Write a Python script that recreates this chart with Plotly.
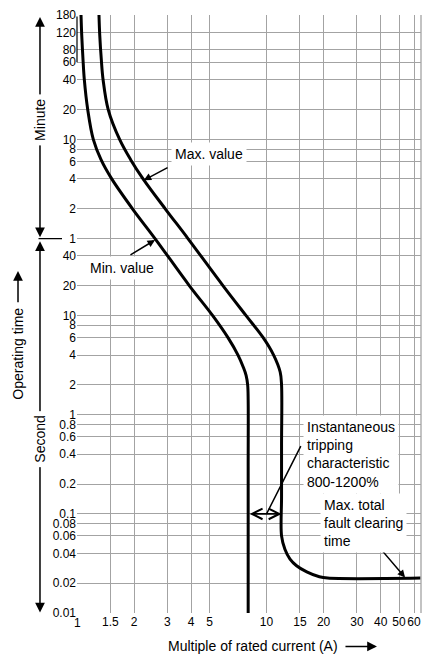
import numpy as np
import plotly.graph_objects as go

# ---------------- data (current multiple, operating time in seconds) ----------------
min_current = [1.05, 1.059, 1.076, 1.093, 1.139, 1.219, 1.339, 1.525, 1.98, 2.58, 3.92, 5.2,
               6.26, 7.07, 7.55, 7.8, 7.95, 8.0, 8.0, 8.0]
min_time_s = [10800, 6800, 3800, 2400, 1200, 600, 375, 240, 117, 60, 20, 10,
              6, 4, 3, 2.5, 2.0, 1.4, 0.3, 0.01]

max_current = [1.306, 1.318, 1.344, 1.373, 1.461, 1.678, 1.919, 2.231, 2.948, 3.85, 5.9, 7.8,
               9.6, 10.9, 11.8, 12.0, 12.0, 12.0, 12.0, 12.5, 13.3, 14.4, 16.3, 19.0, 21.0, 65.0]
max_time_s = [10800, 6800, 3800, 2400, 1200, 600, 375, 240, 117, 60, 20, 10,
              6, 4, 2.7, 2.0, 0.5, 0.15, 0.06, 0.044, 0.035, 0.030, 0.026, 0.0232, 0.0225, 0.0225]

instant_min = 8      # 800 %
instant_max = 12     # 1200 %
instant_time = 0.1   # level of the double arrow (s)

x_ticks = [1.5, 2, 3, 4, 5, 10, 15, 20, 30, 40, 50, 60]
x_tick_text = ["1.5", "2", "3", "4", "5", "10", "15", "20", "30", "40", "50", "60"]
x_first_label = "1"
y_ticks_minutes = [180, 120, 80, 60, 40, 20, 10, 8, 6, 4, 2, 1]
y_ticks_seconds = [40, 20, 10, 8, 6, 4, 2, 1, 0.8, 0.6, 0.4, 0.2, 0.1, 0.08, 0.06, 0.04, 0.02, 0.01]

y_tick_vals = [m * 60 for m in y_ticks_minutes] + y_ticks_seconds
y_tick_text = [f"{m:g}" for m in y_ticks_minutes] + [f"{s:g}" for s in y_ticks_seconds]

x_min, x_max = 1, 65.3
t_min, t_max = 0.01, 10800

FONT = "Liberation Sans, Arial, Helvetica, sans-serif"
GRID = "#a3a3a3"
L = np.log10

fig = go.Figure()
for xs, ys, nm in [(min_current, min_time_s, "Min. value"), (max_current, max_time_s, "Max. value")]:
    fig.add_trace(go.Scatter(x=xs, y=ys, mode="lines",
                             line=dict(color="black", width=3, shape="spline", smoothing=1.0),
                             name=nm, hoverinfo="skip"))

fig.update_layout(
    template="none",
    width=422, height=655,
    margin=dict(l=77, r=1, t=15, b=42),
    plot_bgcolor="white", paper_bgcolor="white",
    showlegend=False,
    font=dict(family=FONT, size=12, color="black"),
)
axis_common = dict(type="log", showgrid=True, gridcolor=GRID, gridwidth=1.3, ticks="",
                   showline=False, zeroline=False, automargin=False, tickangle=0,
                   tickfont=dict(family=FONT, size=12, color="black"))
fig.update_xaxes(range=[L(x_min), L(x_max)], tickvals=x_ticks, ticktext=x_tick_text, **axis_common)
fig.update_yaxes(range=[L(t_min), L(t_max)], tickvals=y_tick_vals, ticktext=y_tick_text, **axis_common)

# right border
fig.add_shape(type="line", xref="paper", yref="paper", x0=1, x1=1, y0=0, y1=1,
              line=dict(color=GRID, width=1.3))
# label for x = 1 (left edge, no grid line there in the original)
fig.add_annotation(x=0, y=-0.016, xref="paper", yref="paper", text=x_first_label, showarrow=False,
                   xanchor="center", yanchor="middle", font=dict(family=FONT, size=12, color="black"))


def line_ann(xh, yh, xt, yt, head=0, side="end", size=1.0, width=1.5):
    fig.add_annotation(x=L(xh), y=L(yh), ax=L(xt), ay=L(yt), xref="x", yref="y",
                       axref="x", ayref="y", text="", showarrow=True, arrowhead=head,
                       startarrowhead=head, arrowside=side, arrowsize=size,
                       startarrowsize=size, arrowwidth=width, arrowcolor="black")


def vline_ann(xp, yh, yt, head=0, side="end", size=1.0, width=1.5):
    # vertical arrow in the left margin: x in paper units, y in data (seconds)
    fig.add_annotation(x=xp, y=L(yh), xref="paper", yref="y", axref="pixel", ax=0,
                       ayref="y", ay=L(yt), text="", showarrow=True, arrowhead=head,
                       startarrowhead=head, arrowside=side, arrowsize=size,
                       startarrowsize=size, arrowwidth=width, arrowcolor="black")


def text_ann(x, y, txt, align="left", size=14, pad=3):
    fig.add_annotation(x=L(x), y=L(y), xref="x", yref="y", text=txt, showarrow=False,
                       align=align, bgcolor="white", borderpad=pad, xanchor="center",
                       yanchor="middle", font=dict(family=FONT, size=size, color="black"))


def side_text(xp, y, txt, pad=4):
    fig.add_annotation(x=xp, y=L(y), xref="paper", yref="y", text=txt, showarrow=False,
                       textangle=-90, bgcolor="white", borderpad=pad, xanchor="center",
                       yanchor="middle", font=dict(family=FONT, size=14, color="black"))


# short dark segment at the top of the left edge (60-180 min)
vline_ann(0.0, 3600, 10800 * 0.999, head=0, width=1.2)

# left-hand arrows (Minute / Second / Operating time)
xa = -0.1076
vline_ann(xa, 60 * 1.03, 10800 * 0.99, head=2, side="end+start", size=1.3, width=1.5)
vline_ann(xa, 0.0101, 60 * 0.97, head=2, side="end+start", size=1.3, width=1.5)
fig.add_annotation(x=-0.0436, y=L(60), xref="paper", yref="y", axref="pixel", ayref="pixel",
                   ax=-25, ay=0, text="", showarrow=True, arrowhead=0, arrowwidth=1.2,
                   arrowcolor="black")
side_text(xa, 944, "Minute")
side_text(xa, 0.574, "Second")
xo = -0.1715
vline_ann(xo, 10 ** 1.45, 10 ** 1.12, head=2, size=1.3, width=1.5)
side_text(xo, 4.13, "Operating time", pad=2)

# Max. value / Min. value labels
line_ann(2.25, 232, 3.06, 317, head=2, size=1.0, width=1.5)
text_ann(4.97, 429, "Max. value")
line_ann(2.58, 58, 1.88, 40.2, head=2, size=1.0, width=1.5)
text_ann(1.72, 30.4, "Min. value")

# Instantaneous tripping characteristic
line_ann(instant_max, instant_time, instant_min, instant_time, head=5, side="end+start", size=1.3, width=1.6)
line_ann(10.0, instant_time, 15.3, 0.5, head=0, width=1.5)
text_ann(27.8, 0.401, "Instantaneous<br>tripping<br>characteristic<br>800-1200%")

# Max. total fault clearing time
line_ann(53.8, 0.0228, 33.8, 0.0647, head=2, size=1.0, width=1.5)
text_ann(32.5, 0.0817, "Max. total<br>fault clearing<br>time")

# x-axis title with arrow
fig.add_annotation(x=0.5116, y=-0.056, xref="paper", yref="paper", text="Multiple of rated current (A)",
                   showarrow=False, xanchor="center", yanchor="middle",
                   font=dict(family=FONT, size=14, color="black"))
fig.add_annotation(x=0.872, y=-0.056, xref="paper", yref="paper", axref="pixel", ayref="pixel",
                   ax=-33, ay=0, text="", showarrow=True, arrowhead=2, arrowsize=1.3,
                   arrowwidth=1.5, arrowcolor="black")

fig.write_html("out.html", config={"displayModeBar": False},
               post_script="document.body.style.margin='0px';")
